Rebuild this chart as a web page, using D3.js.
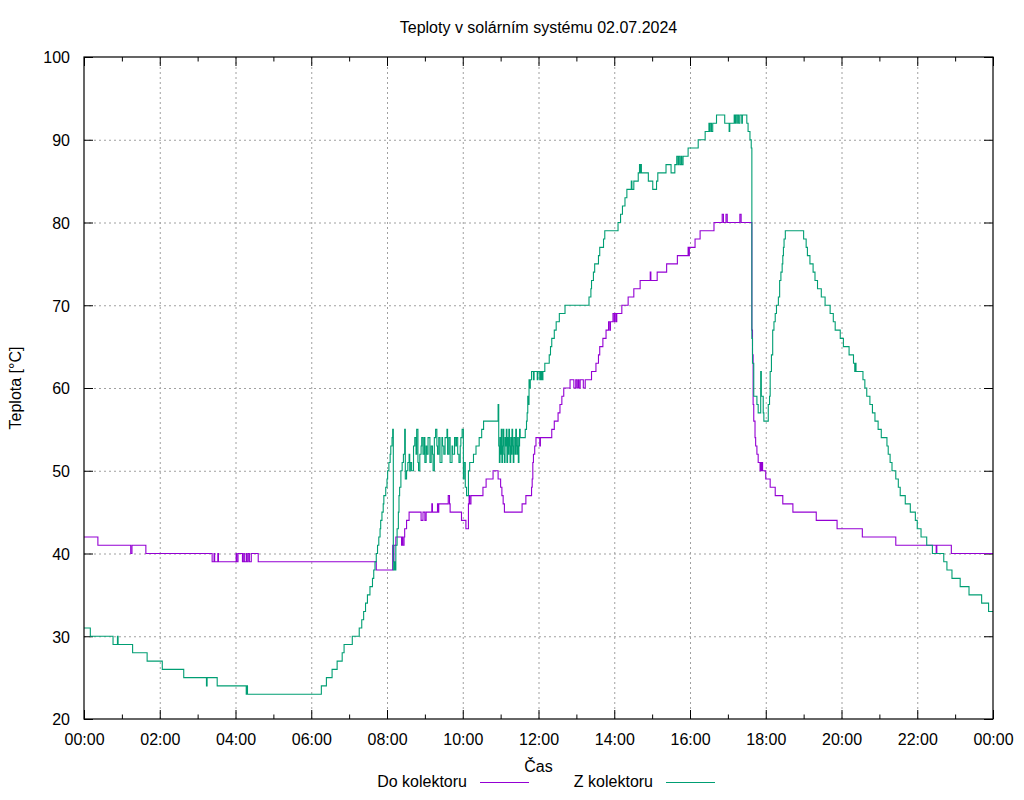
<!DOCTYPE html>
<html>
<head>
<meta charset='utf-8'>
<style>
body { margin: 0; background: #fff; }
svg { font-family: 'Liberation Sans', Arial, sans-serif; }
.grid line { stroke: #a0a0a0; stroke-dasharray: 2,3; }
.grid path { display: none; }
.ax path { display: none; }
.ax line { stroke: #000; }
.ax text { font-size: 16px; fill: #000; }
.line { fill: none; stroke-width: 1.1px; }
</style>
<script src='https://d3js.org/d3.v7.min.js'></script>
</head>
<body>
<svg id='chart1' width='1024' height='800'></svg>
<script>
// data: [cas, teplota] - step values
var doKolektoru = [
  ['00:00',42],['00:22',41],['01:14',40],['01:16',41],['01:38',40],['03:23',39],['03:26',40],['03:27',39],
  ['03:32',40],['03:33',39],['04:01',40],['04:02',39],['04:04',40],['04:11',39],['04:13',40],['04:14',39],
  ['04:17',40],['04:18',39],['04:20',40],['04:22',39],['04:25',40],['04:36',39],['07:43',38],['08:09',41],
  ['08:10',39],['08:11',41],['08:14',42],['08:23',41],['08:24',42],['08:25',41],['08:27',42],['08:28',43],
  ['08:31',44],['08:35',45],['08:54',44],['08:57',45],['09:00',44],['09:02',45],['09:11',46],['09:12',45],
  ['09:20',46],['09:21',45],['09:22',46],['09:37',47],['09:39',46],['09:40',45],['09:58',44],['10:05',43],
  ['10:09',46],['10:10',47],['10:11',46],['10:13',47],['10:32',48],['10:37',49],['10:48',50],['10:56',49],
  ['11:00',48],['11:02',47],['11:04',46],['11:06',45],['11:34',46],['11:40',47],['11:49',48],['11:50',49],
  ['11:51',51],['11:52',52],['11:54',53],['11:56',54],['12:02',53],['12:03',54],['12:21',55],['12:25',56],
  ['12:31',57],['12:34',58],['12:37',59],['12:40',60],['12:50',61],['12:56',60],['12:59',61],['13:01',60],
  ['13:03',61],['13:04',60],['13:06',61],['13:11',60],['13:14',61],['13:24',62],['13:31',63],['13:35',64],
  ['13:37',65],['13:42',66],['13:47',67],['13:51',68],['13:53',67],['13:54',68],['13:58',69],['14:00',68],
  ['14:01',69],['14:03',68],['14:04',69],['14:12',70],['14:22',71],['14:31',72],['14:41',73],['14:57',74],
  ['14:58',73],['15:08',74],['15:23',75],['15:40',76],['15:57',77],['15:58',76],['15:59',77],['16:08',78],
  ['16:16',79],['16:38',80],['16:51',81],['16:53',80],['16:57',81],['16:59',80],['17:19',81],['17:21',80],
  ['17:38',67],['17:39',64],['17:40',58],['17:41',56],['17:43',54],['17:44',53],['17:46',52],['17:48',51],
  ['17:51',50],['17:52',51],['17:53',50],['17:54',51],['17:55',50],['18:00',49],['18:07',48],['18:15',47],
  ['18:27',46],['18:43',45],['19:20',44],['19:53',43],['20:33',42],['21:26',41],['22:30',40],['22:31',41],
  ['22:54',40],['24:00',40]
];

var zKolektoru = [
  ['00:00',31],['00:10',30],['00:46',29],['00:53',30],['00:54',29],['01:17',28],['01:40',27],['02:04',26],
  ['02:38',25],['03:14',24],['03:15',25],['03:31',24],['04:17',23],['04:18',24],['04:19',23],['06:16',24],
  ['06:24',25],['06:33',26],['06:41',27],['06:49',28],['06:52',29],['07:05',30],['07:16',31],['07:20',32],
  ['07:23',33],['07:26',34],['07:29',35],['07:33',36],['07:37',37],['07:39',38],['07:41',39],['07:43',40],
  ['07:45',41],['07:47',42],['07:49',43],['07:50',44],['07:52',45],['07:54',46],['07:55',47],['07:58',48],
  ['08:00',49],['08:01',50],['08:03',51],['08:05',52],['08:06',53],['08:08',54],['08:09',55],['08:10',38],
  ['08:12',39],['08:13',38],['08:14',41],['08:16',43],['08:18',45],['08:19',47],['08:20',48],['08:22',50],
  ['08:24',51],['08:26',52],['08:28',55],['08:29',49],['08:31',50],['08:33',51],['08:35',52],['08:36',50],
  ['08:37',51],['08:39',50],['08:42',53],['08:44',54],['08:46',52],['08:47',55],['08:49',51],['08:50',50],
  ['08:52',52],['08:54',53],['08:55',54],['08:57',52],['08:59',54],['09:00',51],['09:02',53],['09:03',52],
  ['09:05',54],['09:08',51],['09:10',53],['09:12',52],['09:13',50],['09:15',54],['09:17',55],['09:19',53],
  ['09:20',52],['09:22',54],['09:24',51],['09:27',54],['09:28',53],['09:30',52],['09:32',54],['09:35',55],
  ['09:36',52],['09:38',54],['09:40',51],['09:43',53],['09:44',52],['09:47',54],['09:49',53],['09:50',54],
  ['09:52',52],['09:54',51],['09:56',53],['09:57',54],['09:59',55],['10:01',49],['10:02',51],['10:04',48],
  ['10:06',47],['10:09',50],['10:11',51],['10:17',52],['10:21',53],['10:26',54],['10:30',55],['10:33',56],
  ['10:56',58],['10:57',53],['10:58',51],['10:59',54],['11:00',52],['11:01',55],['11:02',51],['11:03',53],
  ['11:04',55],['11:05',52],['11:06',51],['11:07',54],['11:08',53],['11:09',55],['11:10',51],['11:11',54],
  ['11:12',52],['11:13',55],['11:14',53],['11:15',51],['11:16',54],['11:17',52],['11:18',55],['11:19',53],
  ['11:20',51],['11:21',54],['11:23',52],['11:24',55],['11:25',53],['11:26',52],['11:27',54],['11:28',51],
  ['11:29',53],['11:30',55],['11:31',54],['11:39',55],['11:41',56],['11:42',57],['11:43',59],['11:44',58],
  ['11:45',61],['11:46',60],['11:47',61],['11:49',62],['11:52',61],['11:53',62],['11:58',61],['11:59',62],
  ['12:02',61],['12:03',62],['12:04',61],['12:05',62],['12:06',61],['12:07',62],['12:10',63],['12:17',64],
  ['12:19',65],['12:21',66],['12:25',67],['12:28',68],['12:33',69],['12:42',70],['13:20',71],['13:23',72],
  ['13:24',73],['13:27',74],['13:29',75],['13:35',76],['13:37',77],['13:43',78],['13:45',79],['14:06',80],
  ['14:10',81],['14:13',82],['14:17',83],['14:20',84],['14:27',85],['14:28',84],['14:31',85],['14:38',86],
  ['14:40',87],['14:41',86],['14:42',87],['14:43',86],['14:54',85],['15:01',84],['15:07',85],['15:09',86],
  ['15:22',87],['15:30',86],['15:36',87],['15:39',88],['15:41',87],['15:42',88],['15:44',87],['15:46',88],
  ['15:47',87],['15:49',88],['15:57',89],['16:13',90],['16:24',91],['16:30',92],['16:31',91],['16:32',92],
  ['16:34',91],['16:36',92],['16:42',93],['16:55',92],['17:02',91],['17:03',92],['17:10',93],['17:11',92],
  ['17:12',93],['17:14',92],['17:15',93],['17:17',92],['17:19',93],['17:22',92],['17:23',93],['17:30',92],
  ['17:32',91],['17:35',90],['17:37',89],['17:38',66],['17:39',63],['17:41',59],['17:46',58],['17:48',57],
  ['17:52',62],['17:53',59],['17:56',57],['17:57',56],['18:04',58],['18:06',59],['18:07',62],['18:09',64],
  ['18:11',67],['18:13',68],['18:15',69],['18:17',70],['18:20',71],['18:22',73],['18:24',74],['18:26',75],
  ['18:27',76],['18:28',77],['18:29',78],['18:31',79],['19:00',78],['19:04',77],['19:06',76],['19:10',75],
  ['19:15',74],['19:18',73],['19:22',72],['19:28',71],['19:34',70],['19:42',69],['19:47',68],['19:50',67],
  ['19:58',66],['20:03',65],['20:12',64],['20:19',63],['20:21',62],['20:22',63],['20:23',62],['20:34',61],
  ['20:37',60],['20:40',59],['20:45',58],['20:49',57],['20:53',56],['20:58',55],['21:03',54],['21:12',53],
  ['21:14',52],['21:17',51],['21:20',50],['21:26',49],['21:30',48],['21:33',47],['21:41',46],['21:49',45],
  ['21:57',44],['22:00',43],['22:06',42],['22:15',41],['22:24',40],['22:42',39],['22:47',38],['22:55',37],
  ['23:08',36],['23:22',35],['23:42',34],['23:53',33],['24:00',33]
];

var xTicks = [0, 2, 4, 6, 8, 10, 12, 14, 16, 18, 20, 22, 24];
var xMinorTicks = [1, 3, 5, 7, 9, 11, 13, 15, 17, 19, 21, 23];
var yTicks = [20, 30, 40, 50, 60, 70, 80, 90, 100];
var seriesNames = ['Do kolektoru', 'Z kolektoru'];
var seriesColors = ['#9400d3', '#009e73'];

var chart1 = d3.select('svg');
var margin = {top: 57, right: 31, bottom: 81, left: 84};
var width = +chart1.attr('width') - margin.left - margin.right;
var height = +chart1.attr('height') - margin.top - margin.bottom;

var g = chart1.append('g').attr('transform',
    'translate(' + margin.left + ',' + margin.top + ')');

var x = d3.scaleLinear().domain([0, 24]).range([0, width]);
var y = d3.scaleLinear().domain([20, 100]).range([height, 0]);

function hours(s) {
  var p = s.split(':');
  return +p[0] + (+p[1]) / 60;
}
function fmtHour(h) {
  return d3.format('02d')(h % 24) + ':00';
}

// grid
g.append('g').attr('class', 'grid')
    .attr('transform', 'translate(0,' + height + ')')
    .call(d3.axisBottom(x).tickValues(xTicks.slice(1, -1)).tickSize(-height).tickFormat(''));
g.append('g').attr('class', 'grid')
    .call(d3.axisLeft(y).tickValues(yTicks.slice(1, -1)).tickSize(-width).tickFormat(''));

// axes with inward ticks
g.append('g').attr('class', 'ax xlab')
    .attr('transform', 'translate(0,' + height + ')')
    .call(d3.axisBottom(x).tickValues(xTicks).tickSizeInner(-9).tickSizeOuter(0)
      .tickPadding(15).tickFormat(fmtHour));
g.append('g').attr('class', 'ax')
    .attr('transform', 'translate(0,' + height + ')')
    .call(d3.axisBottom(x).tickValues(xMinorTicks).tickSize(-4.5).tickFormat(''));
g.append('g').attr('class', 'ax')
    .call(d3.axisTop(x).tickValues(xTicks).tickSize(-9).tickFormat(''));
g.append('g').attr('class', 'ax')
    .call(d3.axisTop(x).tickValues(xMinorTicks).tickSize(-4.5).tickFormat(''));
g.append('g').attr('class', 'ax ylab')
    .call(d3.axisLeft(y).tickValues(yTicks).tickSizeInner(-9).tickSizeOuter(0).tickPadding(14));
g.append('g').attr('class', 'ax')
    .attr('transform', 'translate(' + width + ',0)')
    .call(d3.axisRight(y).tickValues(yTicks).tickSize(-9).tickFormat(''));

g.selectAll('.xlab .tick text').attr('dy', '0.71em');
g.selectAll('.ylab .tick text').attr('dy', '0.36em');

// data lines
var line1 = d3.line()
    .curve(d3.curveStepAfter)
    .x(function(d) { return x(hours(d[0])); })
    .y(function(d) { return y(d[1]); });

[doKolektoru, zKolektoru].forEach(function(data, i) {
  g.append('path')
      .datum(data)
      .attr('class', 'line')
      .attr('stroke', seriesColors[i])
      .attr('d', line1);
});

// frame
g.append('rect')
    .attr('x', 0).attr('y', 0)
    .attr('width', width).attr('height', height)
    .attr('fill', 'none').attr('stroke', '#000').attr('stroke-width', 1.2);

// texts
chart1.append('text')
    .attr('x', margin.left + width / 2).attr('y', 33)
    .attr('text-anchor', 'middle').attr('font-size', 16)
    .text('Teploty v solárním systému 02.07.2024');

chart1.append('text')
    .attr('transform', 'translate(21,' + (margin.top + height / 2) + ') rotate(-90)')
    .attr('text-anchor', 'middle').attr('font-size', 16)
    .text('Teplota [°C]');

chart1.append('text')
    .attr('x', margin.left + width / 2).attr('y', 772)
    .attr('text-anchor', 'middle').attr('font-size', 16)
    .text('Čas');

var legendX = [467, 653];
seriesNames.forEach(function(name, i) {
  chart1.append('text')
      .attr('x', legendX[i]).attr('y', 787)
      .attr('text-anchor', 'end').attr('font-size', 16)
      .text(name);
  chart1.append('line')
      .attr('x1', legendX[i] + 13).attr('x2', legendX[i] + 62)
      .attr('y1', 782.5).attr('y2', 782.5)
      .attr('stroke', seriesColors[i]).attr('stroke-width', 1.2);
});
</script>
</body>
</html>
